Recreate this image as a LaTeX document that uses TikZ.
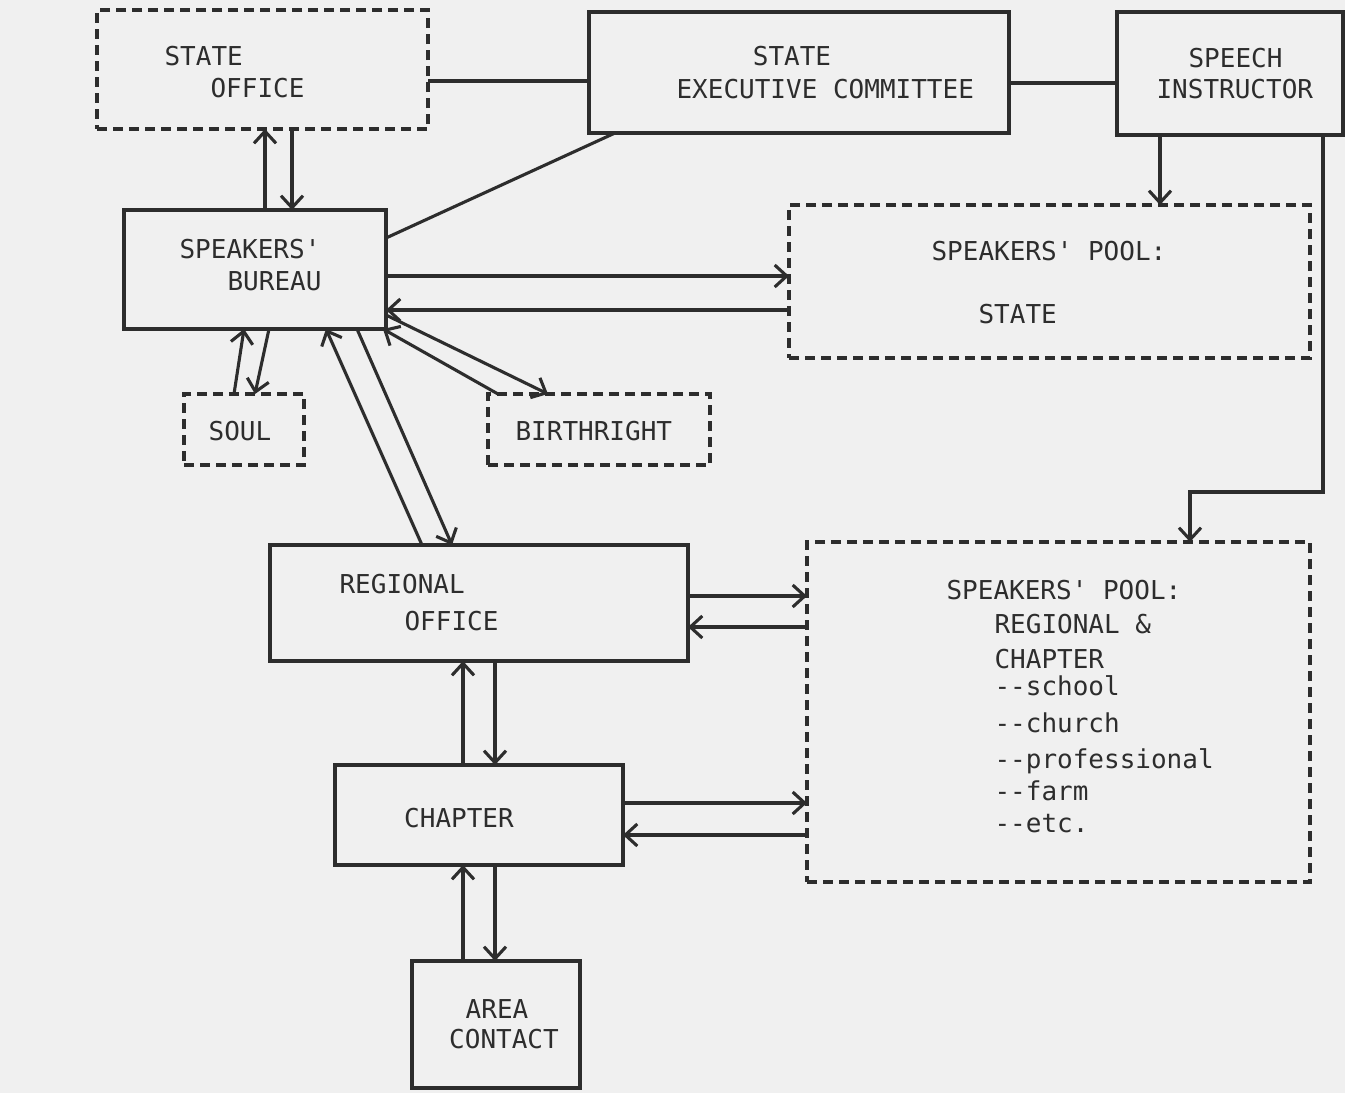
\documentclass[tikz,border=0pt]{standalone}
\usepackage{fontspec}
\setmonofont{DejaVu Sans Mono}
\usetikzlibrary{arrows.meta}
\definecolor{ink}{RGB}{45,45,45}
\definecolor{paper}{RGB}{240,240,240}
\begin{document}
\begin{tikzpicture}[x=1pt,y=-1pt,line width=3.1pt,draw=ink,
  box/.style n args={2}{draw=ink,minimum width=#1,minimum height=#2,inner sep=0pt,outer sep=0pt},
  dbox/.style n args={2}{box={#1}{#2},dash pattern=on 10pt off 6pt},
  lbl/.style={font=\ttfamily\fontsize{26}{30}\selectfont,inner sep=0pt,anchor=base west,text=ink},
  clbl/.style={lbl,anchor=base},
  arr/.style={-{Straight Barb[length=12pt,width=22pt]}}]
\fill[paper] (0,0) rectangle (1345,1093);
\useasboundingbox (0,0) rectangle (1345,1093);
% boxes
\node[dbox={331pt}{119pt}] (so) at (262.5,69.5) {};
\node[box={420pt}{121pt}] (sec) at (799,72.5) {};
\node[box={226pt}{123pt}] (si) at (1230,73.5) {};
\node[box={262pt}{119pt}] (sb) at (255,269.5) {};
\node[dbox={521pt}{153pt}] (sps) at (1049.5,281.5) {};
\node[dbox={120pt}{71pt}] (soul) at (244,429.5) {};
\node[dbox={222pt}{71pt}] (bir) at (599,429.5) {};
\node[box={418pt}{116pt}] (ro) at (479,603) {};
\node[dbox={503pt}{340pt}] (spr) at (1058.5,712) {};
\node[box={288pt}{100pt}] (ch) at (479,815) {};
\node[box={168pt}{127pt}] (ac) at (496,1024.5) {};
% texts
\node[lbl] (t1) at (163,65) {STATE};
\node[lbl] (t2) at (209,97) {OFFICE};
\node[clbl] (t3) at (792,65) {STATE};
\node[lbl] (t4) at (675,98) {EXECUTIVE COMMITTEE};
\node[lbl] (t5) at (1187,67) {SPEECH};
\node[lbl] (t6) at (1155,98) {INSTRUCTOR};
\node[lbl] (t7) at (178,258) {SPEAKERS'};
\node[lbl] (t8) at (226,290) {BUREAU};
\node[lbl] (t9) at (930,260) {SPEAKERS' POOL:};
\node[lbl] (t10) at (977,323) {STATE};
\node[clbl] (t11) at (240,440) {SOUL};
\node[lbl] (t12) at (514,440) {BIRTHRIGHT};
\node[lbl] (t13) at (338,593) {REGIONAL};
\node[lbl] (t14) at (403,630) {OFFICE};
\node[clbl] (t15) at (459,827) {CHAPTER};
\node[clbl] (t16) at (497,1018) {AREA};
\node[clbl] (t17) at (504,1048) {CONTACT};
\node[lbl] (t18) at (945,599) {SPEAKERS' POOL:};
\node[lbl] (t19) at (993,633) {REGIONAL \&};
\node[lbl] (t20) at (993,668) {CHAPTER};
\node[lbl] (t21) at (993,695) {-{}-school};
\node[lbl] (t22) at (993,732) {-{}-church};
\node[lbl] (t23) at (993,768) {-{}-professional};
\node[lbl] (t24) at (993,800) {-{}-farm};
\node[lbl] (t25) at (993,832) {-{}-etc.};
% connectors
\draw (so.east |- 0,81) -- (sec.west |- 0,81);
\draw (sec.east |- 0,83) -- (si.west |- 0,83);
\draw[arr] (265,0 |- sb.north) -- (265,0 |- so.south);
\draw[arr] (292,0 |- so.south) -- (292,0 |- sb.north);
\draw (615,0 |- sec.south) -- (sb.east |- 0,238);
\draw[arr] (1160,0 |- si.south) -- (1160,0 |- sps.north);
\coordinate (bend) at (1190,492);
\draw[arr] (1323,0 |- si.south) |- (bend) -- (1190,0 |- spr.north);
\draw[arr] (sb.east |- 0,276) -- (sps.west |- 0,276);
\draw[arr] (sps.west |- 0,310) -- (sb.east |- 0,310);
\draw[arr] (234,0 |- soul.north) -- (244,0 |- sb.south);
\draw[arr] (269,0 |- sb.south) -- (255,0 |- soul.north);
\draw[arr] (sb.east |- 0,315) -- (548,0 |- bir.north);
\draw[arr] (498,0 |- bir.north) -- (383,0 |- sb.south);
\draw[arr] (422,0 |- ro.north) -- (326,0 |- sb.south);
\draw[arr] (357,0 |- sb.south) -- (452,0 |- ro.north);
\draw[arr] (ro.east |- 0,596) -- (spr.west |- 0,596);
\draw[arr] (spr.west |- 0,627) -- (ro.east |- 0,627);
\draw[arr] (463,0 |- ch.north) -- (463,0 |- ro.south);
\draw[arr] (495,0 |- ro.south) -- (495,0 |- ch.north);
\draw[arr] (ch.east |- 0,803) -- (spr.west |- 0,803);
\draw[arr] (spr.west |- 0,835) -- (ch.east |- 0,835);
\draw[arr] (463,0 |- ac.north) -- (463,0 |- ch.south);
\draw[arr] (495,0 |- ch.south) -- (495,0 |- ac.north);
\end{tikzpicture}
\end{document}
